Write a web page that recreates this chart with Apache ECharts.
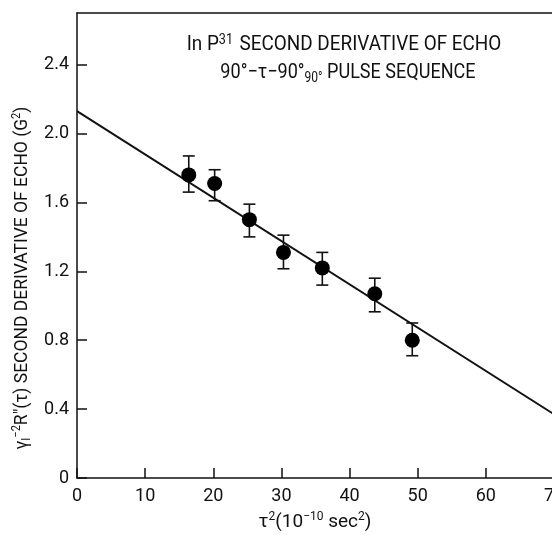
<!DOCTYPE html>
<html>
<head>
<meta charset="utf-8">
<script src="https://cdn.jsdelivr.net/npm/echarts@6/dist/echarts.min.js"></script>
<style>
html,body{margin:0;padding:0;background:#fff;overflow:hidden;width:552px;height:535px;}
#c{width:572px;height:535px;}
</style>
</head>
<body>
<div id="c"></div>
<script>
// data
var tau2 = [16.4, 20.2, 25.3, 30.3, 36.0, 43.7, 49.2];
var echo = [1.76, 1.71, 1.50, 1.31, 1.22, 1.07, 0.80];
var errLow = [1.66, 1.61, 1.40, 1.215, 1.12, 0.965, 0.71];
var errHigh = [1.87, 1.79, 1.59, 1.41, 1.31, 1.16, 0.90];
var fitX = [0, 70];
var fitY = [2.13, 0.37];
var xTicks = [0, 10, 20, 30, 40, 50, 60, 70];
var yTicks = ['0', '0.4', '0.8', '1.2', '1.6', '2.0', '2.4'];

var FONT = "Roboto,'Liberation Sans',sans-serif";

var pts = tau2.map(function (x, i) { return [x, echo[i]]; });
var errs = tau2.map(function (x, i) { return [x, errLow[i], errHigh[i]]; });
var fit = fitX.map(function (x, i) { return [x, fitY[i]]; });
var yTickVals = yTicks.map(function (s) { return parseFloat(s); });

var chart = echarts.init(document.getElementById('c'), null, {renderer: 'canvas', width: 572, height: 535});
chart.setOption({
  animation: false,
  backgroundColor: '#fff',
  grid: {left: 77, top: 13, right: 18, bottom: 57, containLabel: false},
  xAxis: [{
    type: 'value', min: 0, max: 70, interval: 10,
    axisLine: {show: true, lineStyle: {color: '#111', width: 1.5}},
    axisTick: {show: true, inside: true, length: 10, customValues: xTicks, lineStyle: {color: '#111', width: 1.5}},
    axisLabel: {color: '#111', fontFamily: FONT, fontSize: 18, margin: 9, customValues: xTicks,
      formatter: function (v) { return String(v); }},
    splitLine: {show: false}
  }, {
    type: 'value', min: 0, max: 70, position: 'top',
    axisLine: {show: true, lineStyle: {color: '#111', width: 1.5}},
    axisTick: {show: false}, axisLabel: {show: false}, splitLine: {show: false}
  }],
  yAxis: [{
    type: 'value', min: 0, max: 2.7, interval: 0.4,
    axisLine: {show: true, lineStyle: {color: '#111', width: 1.5}},
    axisTick: {show: true, inside: true, length: 10, customValues: yTickVals, lineStyle: {color: '#111', width: 1.5}},
    axisLabel: {color: '#111', fontFamily: FONT, fontSize: 18, margin: 8, customValues: yTickVals,
      formatter: function (v) { var i = Math.round(v / 0.4); return yTicks[i] || ''; }},
    splitLine: {show: false}
  }],
  graphic: [{
    type: 'text', x: 22, y: 278, rotation: Math.PI / 2, scaleX: 0.92,
    style: {
      text: '{g|γ}{sub|I}{sup|−2}{n|R″(τ) SECOND DERIVATIVE OF ECHO (G}{sup|2}{n|)}',
      align: 'center', verticalAlign: 'middle',
      fill: '#111',
      rich: {
        g: {fontFamily: FONT, fontSize: 19, fill: '#111', lineHeight: 22},
        n: {fontFamily: FONT, fontSize: 19, fill: '#111', lineHeight: 22},
        sup: {fontFamily: FONT, fontSize: 12, fill: '#111', verticalAlign: 'top', lineHeight: 22, padding: [0, 0, 8, 0]},
        sub: {fontFamily: FONT, fontSize: 12, fill: '#111', verticalAlign: 'bottom', lineHeight: 22, padding: [6, 0, 0, 0]}
      }
    }
  }, {
    type: 'text', x: 344, y: 45, scaleX: 0.9,
    style: {
      text: '{n|In P}{sup|31}{n| SECOND DERIVATIVE OF ECHO}',
      align: 'center', verticalAlign: 'middle', fill: '#111',
      rich: {
        n: {fontFamily: FONT, fontSize: 21, fill: '#111', lineHeight: 24},
        sup: {fontFamily: FONT, fontSize: 14, fill: '#111', verticalAlign: 'top', lineHeight: 24, padding: [0, 2, 8, 0]}
      }
    }
  }, {
    type: 'text', x: 348, y: 73, scaleX: 0.86,
    style: {
      text: '{n|90°−τ−90°}{sub|90°}{n| PULSE SEQUENCE}',
      align: 'center', verticalAlign: 'middle', fill: '#111',
      rich: {
        n: {fontFamily: FONT, fontSize: 21, fill: '#111', lineHeight: 24},
        sub: {fontFamily: FONT, fontSize: 14, fill: '#111', verticalAlign: 'bottom', lineHeight: 24, padding: [6, 0, 0, 0]}
      }
    }
  }, {
    type: 'text', x: 315, y: 522, scaleX: 1.0,
    style: {
      text: '{n|τ}{sup|2}{n|(10}{sup|−10}{n| sec}{sup|2}{n|)}',
      align: 'center', verticalAlign: 'middle', fill: '#111',
      rich: {
        n: {fontFamily: FONT, fontSize: 19, fill: '#111', lineHeight: 22},
        sup: {fontFamily: FONT, fontSize: 12, fill: '#111', verticalAlign: 'top', lineHeight: 22, padding: [0, 0, 8, 0]}
      }
    }
  }],
  series: [{
    type: 'line', data: fit, symbol: 'none', silent: true,
    lineStyle: {color: '#111', width: 2}, z: 2
  }, {
    type: 'custom', data: errs, z: 3,
    renderItem: function (params, api) {
      var x = api.value(0);
      var lo = api.coord([x, api.value(1)]);
      var hi = api.coord([x, api.value(2)]);
      var w = 6;
      var st = {stroke: '#111', lineWidth: 1.6};
      return {type: 'group', children: [
        {type: 'line', shape: {x1: lo[0], y1: lo[1], x2: hi[0], y2: hi[1]}, style: st},
        {type: 'line', shape: {x1: lo[0] - w, y1: lo[1], x2: lo[0] + w, y2: lo[1]}, style: st},
        {type: 'line', shape: {x1: hi[0] - w, y1: hi[1], x2: hi[0] + w, y2: hi[1]}, style: st}
      ]};
    }
  }, {
    type: 'scatter', data: pts, symbol: 'circle', symbolSize: 15,
    itemStyle: {color: '#000', opacity: 1}, z: 4
  }]
});
</script>
</body>
</html>
